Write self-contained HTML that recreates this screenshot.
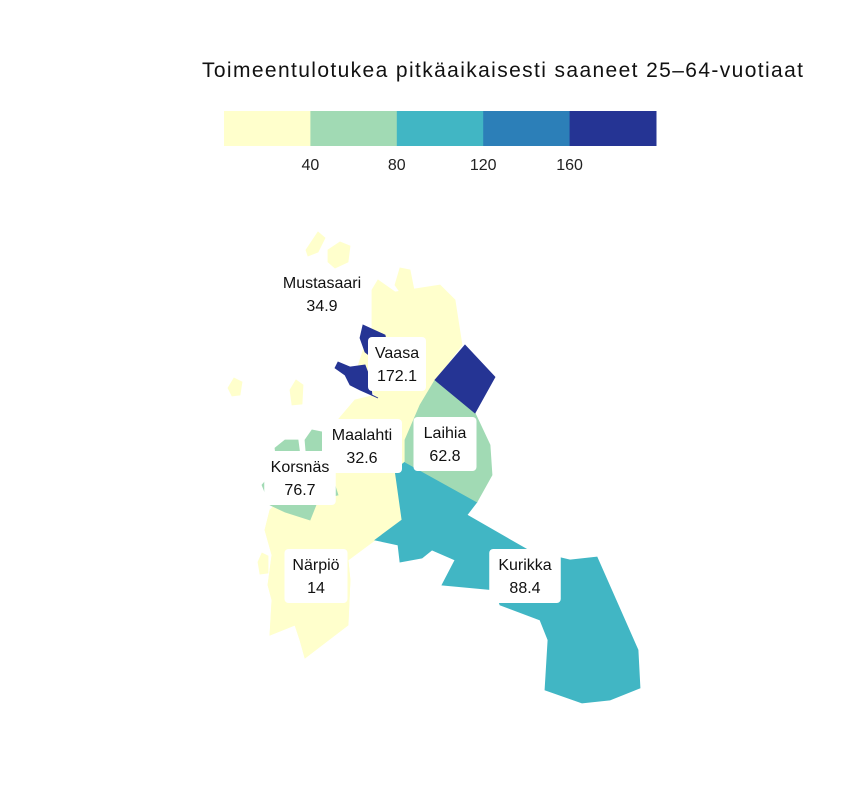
<!DOCTYPE html>
<html><head><meta charset="utf-8"><style>
body{margin:0;background:#fff;font-family:"Liberation Sans",sans-serif}
svg text{font-family:"Liberation Sans",sans-serif}
</style></head><body>
<svg id="chart" width="864" height="792">
<text x="202" y="77" font-size="21" fill="#111" textLength="601" lengthAdjust="spacing">Toimeentulotukea pitkäaikaisesti saaneet 25–64-vuotiaat</text>
<g id="legend"></g>
<g id="map"></g>
<g id="labels"></g>
</svg>
<script>
const regions=["Mustasaari","Vaasa","Maalahti","Laihia","Korsnäs","Närpiö","Kurikka"];
const values=[34.9,172.1,32.6,62.8,76.7,14,88.4];
const breaks=[40,80,120,160];
const colors=["#ffffcc","#a1dab4","#41b6c4","#2c7fb8","#253494"];
function colorFor(v){let i=0;while(i<breaks.length&&v>=breaks[i])i++;return colors[i];}
const NS="http://www.w3.org/2000/svg";
function mk(t,a,p){const e=document.createElementNS(NS,t);for(const k in a)e.setAttribute(k,a[k]);p.appendChild(e);return e;}
const lg=document.getElementById('legend');const lx0=224,lw=86.4;
colors.forEach((c,i)=>{const r=mk('rect',{x:lx0+i*lw,y:111,width:lw+0.5,height:35,fill:c},lg);

});
breaks.forEach((b,i)=>{const t=mk('text',{x:lx0+(i+1)*lw,y:170,'text-anchor':'middle','font-size':16,fill:'#222'},lg);t.textContent=b;

});
const shapes={
"Mustasaari":["372,290 378,280 395,292 440,285 455,300 462,345 435,380 420,405 405,440 395,470 402,520 375,540 348,560 350,580 348,625 305,658 300,640 295,625 270,635 272,600 268,585 272,555 265,530 270,510 285,495 300,480 318,455 338,420 355,400 375,395 355,375 365,345 372,330",
 "306,250 318,232 325,238 318,252 308,256","328,250 340,242 350,246 348,262 335,268 328,262","395,285 400,268 410,270 414,290 402,295","228,388 234,378 242,382 240,395 232,396","290,390 296,380 303,385 302,404 292,405","258,562 262,553 268,556 268,573 260,574"],
"Vaasa":["363,325 385,335 390,355 375,360 365,352 360,338","338,362 350,367 365,365 370,378 372,395 378,398 360,390 350,385 345,375 335,368","465,345 495,377 475,413 435,380"],
"Laihia":["435,380 475,413 490,445 492,475 477,502 405,462 405,440 420,405"],
"Korsnäs":["262,485 275,470 300,462 330,470 338,495 318,500 310,520 285,512 270,505","275,448 285,440 298,440 300,455 276,456","305,440 312,430 322,432 326,452 306,452"],
"Kurikka":["405,462 477,502 467,515 528,550 570,560 597,557 638,650 640,688 610,700 582,703 545,690 548,640 540,620 500,605 495,590 442,585 455,560 432,550 422,558 400,562 398,545 375,540 402,520 395,470"]
};
shapes["Maalahti"]=["338,420 355,400 375,398 405,440 405,462 395,470 400,500 330,500 318,470"];
shapes["Närpiö"]=["270,510 285,512 310,520 330,505 360,500 402,520 375,540 348,560 350,580 348,625 305,658 300,640 295,625 270,635 272,600 268,585 272,555 265,530"];
const order=["Mustasaari","Maalahti","Närpiö","Kurikka","Laihia","Korsnäs","Vaasa"];
const mg=document.getElementById('map');
order.forEach(n=>{const v=values[regions.indexOf(n)];shapes[n].forEach(p=>{
const e=mk('polygon',{points:p,fill:colorFor(v),stroke:colorFor(v),'stroke-width':0.8},mg);

});});
const boxes={"Vaasa":[397,364],"Maalahti":[362,446],"Laihia":[445,444],"Korsnäs":[300,478],"Närpiö":[316,576],"Kurikka":[525,576]};
const lb=document.getElementById('labels');
regions.forEach((n,i)=>{let cx,cy,box=true;
if(n==="Mustasaari"){cx=322;cy=294;box=false;}else{cx=boxes[n][0];cy=boxes[n][1];}
if(box){const w=Math.max(n.length*8.5+12,58);const r=mk('rect',{x:cx-w/2,y:cy-27,width:w,height:54,rx:4,fill:'#fff'},lb);

}
const t1=mk('text',{x:cx,y:cy-6,'text-anchor':'middle','font-size':16,fill:'#111'},lb);t1.textContent=n;


const t2=mk('text',{x:cx,y:cy+17,'text-anchor':'middle','font-size':16,fill:'#111'},lb);t2.textContent=values[i];

});
</script>
</body></html>
